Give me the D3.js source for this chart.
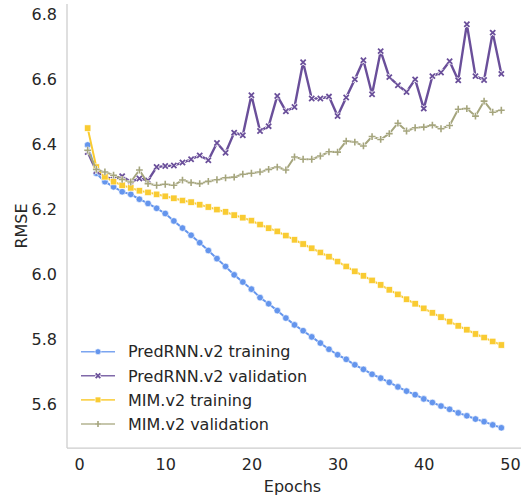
<!DOCTYPE html>
<html>
<head>
<meta charset="utf-8">
<script src="https://cdn.jsdelivr.net/npm/d3@7"></script>
<style>
  body { margin: 0; background: #fff; }
  text { font-family: "DejaVu Sans", sans-serif; fill: #262626; }
</style>
</head>
<body>
<svg id="chart" width="521" height="499"></svg>
<script>
// epochs 1..49
let epochs = d3.range(1, 50);

let predTrain = [6.398, 6.311, 6.285, 6.269, 6.254, 6.246, 6.231, 6.218, 6.203, 6.187,
  6.164, 6.142, 6.120, 6.097, 6.073, 6.048, 6.024, 5.998, 5.976, 5.954,
  5.928, 5.909, 5.888, 5.865, 5.844, 5.826, 5.807, 5.788, 5.769, 5.752,
  5.738, 5.721, 5.707, 5.692, 5.680, 5.667, 5.653, 5.640, 5.629, 5.616,
  5.605, 5.594, 5.584, 5.573, 5.564, 5.554, 5.546, 5.536, 5.527];

let predVal = [6.376, 6.318, 6.300, 6.292, 6.302, 6.284, 6.295, 6.289, 6.330, 6.333,
  6.335, 6.344, 6.354, 6.366, 6.351, 6.404, 6.374, 6.436, 6.428, 6.551,
  6.441, 6.456, 6.549, 6.502, 6.515, 6.653, 6.541, 6.541, 6.547, 6.487,
  6.544, 6.600, 6.659, 6.554, 6.687, 6.607, 6.582, 6.561, 6.600, 6.510,
  6.610, 6.621, 6.656, 6.597, 6.770, 6.610, 6.598, 6.744, 6.617];

let mimTrain = [6.450, 6.330, 6.300, 6.285, 6.274, 6.266, 6.257, 6.252, 6.246, 6.240,
  6.234, 6.227, 6.222, 6.214, 6.207, 6.199, 6.192, 6.182, 6.174, 6.165,
  6.153, 6.142, 6.132, 6.119, 6.106, 6.093, 6.080, 6.067, 6.054, 6.039,
  6.024, 6.009, 5.995, 5.981, 5.967, 5.952, 5.938, 5.923, 5.909, 5.895,
  5.881, 5.868, 5.854, 5.841, 5.829, 5.816, 5.805, 5.793, 5.782];

let mimVal = [6.382, 6.323, 6.315, 6.305, 6.292, 6.284, 6.321, 6.279, 6.274, 6.277,
  6.274, 6.290, 6.282, 6.279, 6.286, 6.291, 6.297, 6.299, 6.308, 6.311,
  6.315, 6.323, 6.330, 6.321, 6.361, 6.354, 6.354, 6.364, 6.377, 6.376,
  6.410, 6.407, 6.395, 6.424, 6.415, 6.433, 6.465, 6.441, 6.451, 6.453,
  6.459, 6.448, 6.458, 6.508, 6.510, 6.487, 6.533, 6.499, 6.505];

let seriesNames = ["PredRNN.v2 training", "PredRNN.v2 validation", "MIM.v2 training", "MIM.v2 validation"];
let seriesColors = ["#6495ed", "#6a4f9a", "#f9cb32", "#a5a57d"];
let seriesMarkers = ["circle", "cross", "square", "plus"];

let xTicks = [0, 10, 20, 30, 40, 50];
let yTicks = [5.6, 5.8, 6.0, 6.2, 6.4, 6.6, 6.8];

let series = [predTrain, predVal, mimTrain, mimVal].map((vals, i) => ({
  name: seriesNames[i],
  color: seriesColors[i],
  marker: seriesMarkers[i],
  values: vals.map((v, j) => ({ x: epochs[j], y: v }))
}));

let svg = d3.select("#chart");
let mLeft = 67, mTop = 4, mRight = 522, mBottom = 448;

// matplotlib style 5% margins
let allY = series.flatMap(s => s.values.map(d => d.y));
let yMin = d3.min(allY), yMax = d3.max(allY);
let yPad = (yMax - yMin) * 0.05;
let xPad = (d3.max(epochs) - d3.min(epochs)) * 0.05;

let x = d3.scaleLinear()
  .domain([d3.min(epochs) - xPad, d3.max(epochs) + xPad])
  .range([mLeft, mRight]);
let y = d3.scaleLinear()
  .domain([yMin - yPad, yMax + yPad])
  .range([mBottom, mTop]);

// spines
svg.append("line").attr("x1", mLeft).attr("x2", mLeft).attr("y1", mTop).attr("y2", mBottom)
  .attr("stroke", "#cccccc").attr("stroke-width", 1.25);
svg.append("line").attr("x1", mLeft).attr("x2", mRight).attr("y1", mBottom).attr("y2", mBottom)
  .attr("stroke", "#cccccc").attr("stroke-width", 1.25);

// axes
let xAxis = svg.append("g")
  .attr("transform", `translate(0,${mBottom})`)
  .call(d3.axisBottom(x).tickValues(xTicks).tickSize(0).tickPadding(11).tickFormat(d3.format("d")));
let yAxis = svg.append("g")
  .attr("transform", `translate(${mLeft},0)`)
  .call(d3.axisLeft(y).tickValues(yTicks).tickSize(0).tickPadding(10).tickFormat(d3.format(".1f")));
[xAxis, yAxis].forEach(a => {
  a.select(".domain").remove();
  a.selectAll("text").style("font-size", "16px").style("font-family", "DejaVu Sans").attr("fill", "#262626");
});

svg.append("text")
  .attr("x", (mLeft + mRight) / 2 - 2).attr("y", 492)
  .attr("text-anchor", "middle").style("font-size", "16px")
  .text("Epochs");
svg.append("text")
  .attr("transform", `translate(27,${(mTop + mBottom) / 2}) rotate(-90)`)
  .attr("text-anchor", "middle").style("font-size", "16px")
  .text("RMSE");

let line = d3.line().x(d => x(d.x)).y(d => y(d.y));

function drawMarker(g, type, color, cx, cy, k = 1) {
  if (type === "circle") {
    g.append("circle").attr("cx", cx).attr("cy", cy).attr("r", 3.3 * k)
      .attr("fill", color).attr("stroke", "#fff").attr("stroke-width", 0.6);
  } else if (type === "square") {
    g.append("rect").attr("x", cx - 3.2 * k).attr("y", cy - 3.2 * k).attr("width", 6.4 * k).attr("height", 6.4 * k)
      .attr("fill", color).attr("stroke", "#fff").attr("stroke-width", 0.6);
  } else if (type === "cross") {
    let s = 2.6 * k;
    g.append("path").attr("d", `M${cx - s},${cy - s}L${cx + s},${cy + s}M${cx - s},${cy + s}L${cx + s},${cy - s}`)
      .attr("stroke", "#fff").attr("stroke-width", 3.2).attr("fill", "none");
    g.append("path").attr("d", `M${cx - s},${cy - s}L${cx + s},${cy + s}M${cx - s},${cy + s}L${cx + s},${cy - s}`)
      .attr("stroke", color).attr("stroke-width", 1.8).attr("fill", "none");
  } else {
    let s = 3.4 * k;
    g.append("path").attr("d", `M${cx - s},${cy}L${cx + s},${cy}M${cx},${cy - s}L${cx},${cy + s}`)
      .attr("stroke", "#fff").attr("stroke-width", 2.8).attr("fill", "none");
    g.append("path").attr("d", `M${cx - s},${cy}L${cx + s},${cy}M${cx},${cy - s}L${cx},${cy + s}`)
      .attr("stroke", color).attr("stroke-width", 1.6).attr("fill", "none");
  }
}

let plot = svg.append("g");
series.forEach(s => {
  let g = plot.append("g");
  g.append("path").datum(s.values)
    .attr("d", line).attr("fill", "none")
    .attr("stroke", s.color).attr("stroke-width", s.marker === "cross" ? 2.4 : 2)
    .attr("stroke-linejoin", "round");
  s.values.forEach(d => drawMarker(g, s.marker, s.color, x(d.x), y(d.y)));
});

// legend
let legend = svg.append("g").attr("transform", "translate(81,351.7)");
series.forEach((s, i) => {
  let row = legend.append("g").attr("transform", `translate(0,${i * 24.1})`);
  row.append("line").attr("x1", 0).attr("x2", 34).attr("y1", 0).attr("y2", 0)
    .attr("stroke", s.color).attr("stroke-width", 1.6).attr("stroke-opacity", 0.85);
  drawMarker(row, s.marker, s.color, 17, 0, 0.9);
  row.append("text").attr("x", 47).attr("y", 5.7).style("font-size", "16px").text(s.name);
});
</script>
</body>
</html>
